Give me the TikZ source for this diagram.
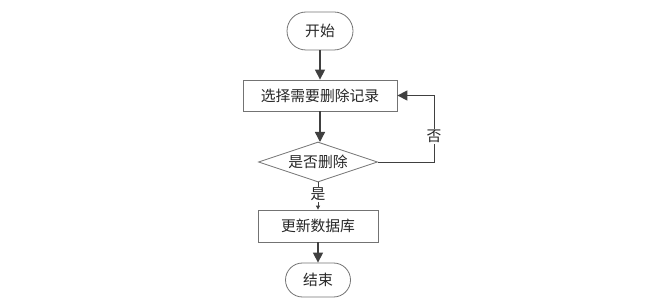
\documentclass[tikz,border=0pt]{standalone}
\usepackage{fontspec}
\setmainfont{Noto Sans CJK SC}
\usetikzlibrary{shapes.geometric,arrows.meta}
\begin{document}
\begin{tikzpicture}[x=1pt,y=-1pt,
  every node/.style={font=\fontsize{14.8}{16}\selectfont, text=black!85},
  term/.style={draw=black!55, line width=0.8pt, rounded corners=19pt, minimum width=66pt, minimum height=38pt, inner sep=0pt},
  proc/.style={draw=black!55, line width=0.8pt, inner sep=0pt},
  dec/.style={draw=black!55, line width=0.8pt, diamond, aspect=3, inner sep=0pt, minimum width=119pt, minimum height=40pt},
  flow/.style={draw=black!75, line width=1.4pt, -{Triangle[length=10pt,width=10pt]}},
  thin/.style={draw=black!75, line width=0.9pt},
  lbl/.style={fill=white, inner sep=1pt}
]
\useasboundingbox (0,0) rectangle (651,307);
\node[term] (start) at (320,31) {开始};
\node[proc, minimum width=154pt, minimum height=31pt] (sel) at (320,95.5) {选择需要删除记录};
\node[dec] (dec) at (318,162) {是否删除};
\node[proc, minimum width=120pt, minimum height=32pt] (upd) at (318,226) {更新数据库};
\node[term, minimum width=65pt, minimum height=34pt, rounded corners=17pt] (end) at (318,280) {结束};
\coordinate (c1) at (434,162);
\coordinate (c2) at (434,95.5);
\draw[flow] (start) -- (sel);
\draw[flow] (sel.south -| 320,0) -- (320,142);
\draw[thin, -{Triangle[length=4pt,width=4pt]}] (dec.south) -- (upd.north) node[pos=0.45, lbl] {是};
\draw[flow] (upd) -- (end);
\draw[thin] (dec.east) -- (c1) -- (c2) node[pos=0.38, lbl] {否};
\draw[flow] (c2) -- (sel.east);
\end{tikzpicture}
\end{document}
